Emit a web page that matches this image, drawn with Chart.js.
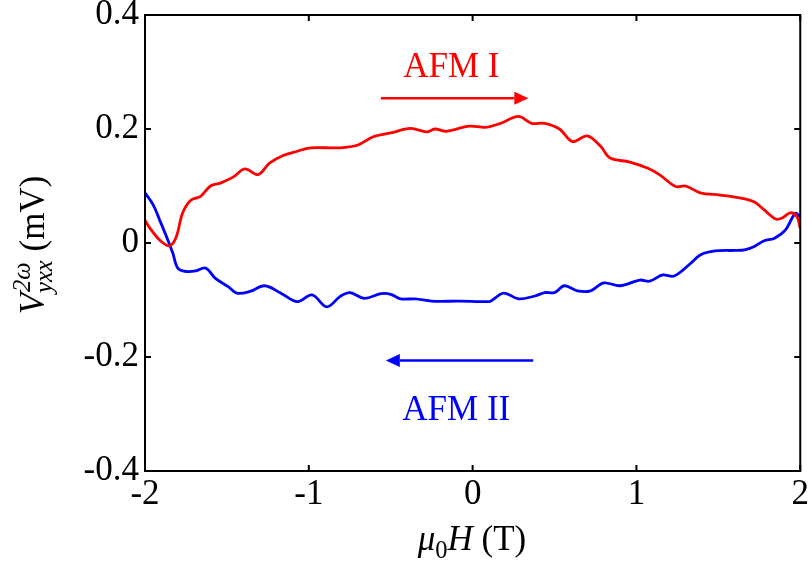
<!DOCTYPE html>
<html lang="en">
<head>
  <meta charset="UTF-8">
  <title>V2w yxx vs field</title>
  <script src="https://cdn.jsdelivr.net/npm/chart.js"></script>
  <style>
    html, body { margin: 0; padding: 0; background: #fff; }
    #wrap { width: 812px; height: 567px; }
  </style>
</head>
<body>
  <div id="wrap"><canvas id="hall"></canvas></div>

  <script>
    // AFM I branch (field sweep up), mV
    const fieldUp = [-2.0,-1.97,-1.91,-1.85,-1.81,-1.77,-1.72,-1.66,-1.60,-1.54,
      -1.46,-1.39,-1.31,-1.24,-1.16,-1.07,-0.99,-0.81,-0.70,-0.61,
      -0.50,-0.38,-0.28,-0.23,-0.16,-0.02,0.08,0.17,0.28,0.36,
      0.44,0.53,0.61,0.70,0.78,0.84,0.96,1.07,1.14,1.24,
      1.30,1.39,1.51,1.63,1.72,1.78,1.85,1.89,1.94,1.98,2.0];
    const vUp = [0.040,0.026,0.005,-0.005,0.010,0.053,0.075,0.082,0.100,0.105,
      0.116,0.130,0.120,0.140,0.153,0.161,0.167,0.167,0.172,0.186,
      0.193,0.201,0.195,0.200,0.196,0.205,0.203,0.210,0.222,0.210,
      0.210,0.200,0.178,0.188,0.170,0.149,0.142,0.131,0.120,0.099,
      0.100,0.088,0.084,0.079,0.072,0.058,0.042,0.044,0.053,0.046,0.026];

    // AFM II branch (field sweep down), mV
    const fieldDown = [-2.0,-1.95,-1.91,-1.86,-1.83,-1.80,-1.75,-1.69,-1.63,-1.57,
      -1.49,-1.44,-1.36,-1.27,-1.17,-1.07,-0.98,-0.89,-0.81,-0.75,
      -0.66,-0.56,-0.50,-0.44,-0.35,-0.25,-0.08,0.08,0.11,0.19,
      0.28,0.38,0.44,0.50,0.56,0.64,0.72,0.80,0.90,1.02,
      1.08,1.16,1.23,1.33,1.39,1.48,1.60,1.66,1.72,1.78,
      1.84,1.91,1.97,2.0];
    const vDown = [0.088,0.067,0.040,0.005,-0.018,-0.044,-0.050,-0.049,-0.044,-0.062,
      -0.077,-0.088,-0.085,-0.075,-0.088,-0.103,-0.091,-0.112,-0.094,-0.087,
      -0.097,-0.089,-0.090,-0.098,-0.098,-0.102,-0.102,-0.103,-0.102,-0.088,
      -0.098,-0.093,-0.087,-0.087,-0.075,-0.084,-0.084,-0.070,-0.075,-0.065,
      -0.067,-0.056,-0.058,-0.036,-0.021,-0.014,-0.013,-0.012,-0.006,0.004,
      0.008,0.023,0.052,0.046];

    const xTicks = [-2, -1, 0, 1, 2];
    const yTicks = [-0.4, -0.2, 0, 0.2, 0.4];

    const FONT = '"Liberation Serif", "Times New Roman", serif';
    const SIZE = 35;

    const toPoints = (xs, ys) => xs.map((x, i) => ({ x: x, y: ys[i] }));
    const tickLabel = v => {
      if (Math.abs(v) < 1e-9) return '0';
      return String(Math.round(v * 10) / 10);
    };

    // box with inward ticks on all four sides
    const frame = {
      id: 'frame',
      afterDraw(chart) {
        const { ctx, chartArea: a, scales: { x, y } } = chart;
        ctx.save();
        ctx.strokeStyle = '#000';
        ctx.lineWidth = 2;
        ctx.strokeRect(a.left, a.top, a.right - a.left, a.bottom - a.top);
        const len = 6;
        ctx.beginPath();
        xTicks.forEach(v => {
          const px = x.getPixelForValue(v);
          ctx.moveTo(px, a.bottom); ctx.lineTo(px, a.bottom - len);
          ctx.moveTo(px, a.top); ctx.lineTo(px, a.top + len);
        });
        yTicks.forEach(v => {
          const py = y.getPixelForValue(v);
          ctx.moveTo(a.left, py); ctx.lineTo(a.left + len, py);
          ctx.moveTo(a.right, py); ctx.lineTo(a.right - len, py);
        });
        ctx.stroke();
        ctx.restore();
      }
    };

    function arrow(ctx, x0, x1, yy, color) {
      const dir = Math.sign(x1 - x0);
      const head = 14, half = 6.5;
      ctx.strokeStyle = color;
      ctx.fillStyle = color;
      ctx.lineWidth = 2.5;
      ctx.beginPath();
      ctx.moveTo(x0, yy);
      ctx.lineTo(x1 - dir * head, yy);
      ctx.stroke();
      ctx.beginPath();
      ctx.moveTo(x1, yy);
      ctx.lineTo(x1 - dir * head, yy - half);
      ctx.lineTo(x1 - dir * head, yy + half);
      ctx.closePath();
      ctx.fill();
    }

    // draws runs of text pieces; i: italic, sub/sup: shifted small text,
    // stack: draw next piece at the same x (sub + sup over each other)
    function richText(ctx, parts, x, y, align) {
      const setFont = p => {
        const small = p.sub || p.sup;
        ctx.font = (p.i ? 'italic ' : '') + (small ? SIZE * 0.7 : SIZE) + 'px ' + FONT;
      };
      const layout = [];
      let cx = 0, held = 0;
      parts.forEach(p => {
        setFont(p);
        const w = ctx.measureText(p.t).width;
        layout.push({ p: p, x: cx });
        if (p.stack) {
          held = w;
        } else if (p.joined) {
          cx += Math.max(held, w + (p.joined || 0));
          held = 0;
        } else {
          cx += w;
        }
      });
      const x0 = align === 'center' ? x - cx / 2 : x;
      layout.forEach(l => {
        setFont(l.p);
        let dy = 0;
        if (l.p.sub) dy = 8;
        if (l.p.sup) dy = -14;
        ctx.fillText(l.p.t, x0 + l.x + (l.p.dx || 0), y + dy);
      });
    }

    const notes = {
      id: 'notes',
      afterDraw(chart) {
        const { ctx, scales: { x, y } } = chart;
        ctx.save();
        ctx.textBaseline = 'alphabetic';
        ctx.textAlign = 'left';

        // sweep direction markers
        arrow(ctx, x.getPixelForValue(-0.56), x.getPixelForValue(0.34), y.getPixelForValue(0.254), '#ff0000');
        arrow(ctx, x.getPixelForValue(0.37), x.getPixelForValue(-0.53), y.getPixelForValue(-0.206), '#0000ff');

        ctx.fillStyle = '#ff0000';
        richText(ctx, [{ t: 'AFM I' }], x.getPixelForValue(-0.13), y.getPixelForValue(0.291), 'center');
        ctx.fillStyle = '#0000ff';
        richText(ctx, [{ t: 'AFM II' }], x.getPixelForValue(-0.10), y.getPixelForValue(-0.311), 'center');

        // axis titles
        ctx.fillStyle = '#000';
        richText(ctx, [
          { t: '\u03bc', i: true }, { t: '0', sub: true }, { t: 'H', i: true }, { t: ' (T)' }
        ], 472, 550, 'center');

        ctx.translate(44, 245);
        ctx.rotate(-Math.PI / 2);
        richText(ctx, [
          { t: 'V', i: true },
          { t: 'yxx', sub: true, i: true, stack: true },
          { t: '2\u03c9', sup: true, i: true, joined: 1, dx: 1 },
          { t: ' (mV)' }
        ], 0, 0, 'center');
        ctx.restore();
      }
    };

    new Chart(document.getElementById('hall'), {
      type: 'line',
      data: {
        datasets: [{
          label: 'AFM I',
          data: toPoints(fieldUp, vUp),
          borderColor: '#ff0000',
          borderWidth: 2.8,
          pointRadius: 0,
          tension: 0.35
        }, {
          label: 'AFM II',
          data: toPoints(fieldDown, vDown),
          borderColor: '#0000ff',
          borderWidth: 2.8,
          pointRadius: 0,
          tension: 0.35
        }]
      },
      options: {
        responsive: true,
        maintainAspectRatio: false,
        animation: false,
        layout: { padding: { top: 15, right: 11, left: 0, bottom: 0 } },
        plugins: { legend: { display: false }, tooltip: { enabled: false } },
        scales: {
          x: {
            type: 'linear',
            min: -2, max: 2,
            afterBuildTicks: s => { s.ticks = xTicks.map(v => ({ value: v })); },
            afterFit: s => { s.height = 96; },
            grid: { display: false, drawTicks: false },
            border: { display: false },
            ticks: {
              padding: 3,
              color: '#000',
              font: { family: FONT, size: SIZE },
              maxRotation: 0,
              callback: v => tickLabel(v)
            }
          },
          y: {
            type: 'linear',
            min: -0.4, max: 0.4,
            afterBuildTicks: s => { s.ticks = yTicks.map(v => ({ value: v })); },
            afterFit: s => {
              s.width = 145;
              // labels may overhang the frame; keep the plot box fixed
              s.paddingTop = 0;
              s.paddingBottom = 0;
            },
            grid: { display: false, drawTicks: false },
            border: { display: false },
            ticks: {
              padding: 6,
              color: '#000',
              font: { family: FONT, size: SIZE },
              callback: v => tickLabel(v)
            }
          }
        }
      },
      plugins: [frame, notes]
    });
  </script>
</body>
</html>
